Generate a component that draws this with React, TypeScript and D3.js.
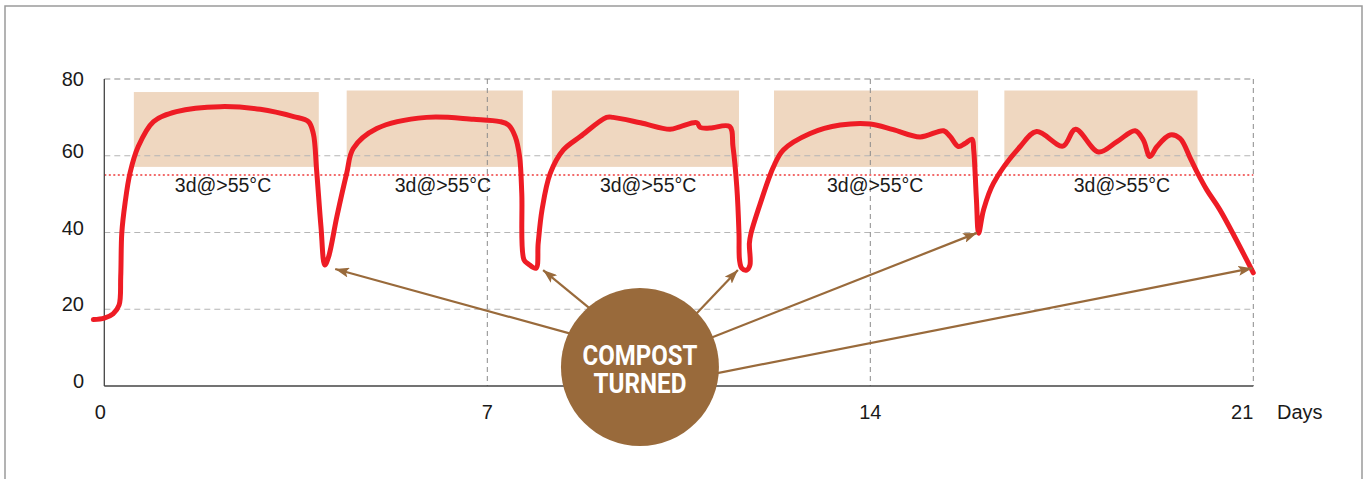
import React from "react";
import * as d3 from "d3";

const dayTicks = [0, 7, 14, 21];
const tempTicks = [0, 20, 40, 60, 80];
const thresholdTemp = 55;

const bandStart = [0.54, 4.43, 8.18, 12.24, 16.45];
const bandEnd = [3.92, 7.65, 11.6, 15.97, 19.98];
const bandTop = [76.6, 77.0, 77.0, 77.0, 77.0];
const bandBottom = 57.1;
const bandLabelDay = [2.17, 6.19, 9.94, 14.09, 18.6];
const bandLabel = "3d@>55°C";

const days = [
  -0.2, 0.0, 0.16, 0.27, 0.3, 0.32, 0.38, 0.47, 0.62, 0.9, 1.32, 2.12, 2.85, 3.46, 3.73, 3.82, 3.88, 3.96, 4.03,
  4.1, 4.25, 4.43, 4.55, 4.98, 5.89, 6.75, 7.23, 7.39, 7.51, 7.59, 7.63, 7.67, 7.75, 7.89, 7.93, 8.0, 8.15, 8.39,
  8.7, 9.18, 9.3, 9.8, 10.34, 10.53, 10.83, 10.89, 11.07, 11.43, 11.49, 11.56, 11.6, 11.61, 11.65, 11.74, 11.8,
  11.79, 11.82, 11.99, 12.23, 12.41, 12.9, 13.45, 14.0, 14.42, 14.91, 15.34, 15.46, 15.61, 15.73, 15.86, 15.89,
  15.94, 15.98, 16.07, 16.25, 16.74, 17.04, 17.52, 17.75, 18.17, 18.51, 18.84, 18.99, 19.11, 19.24, 19.48, 19.66,
  19.85, 19.97, 20.15, 20.39, 21.0,
];
const temps = [
  17.3, 17.7, 18.8, 21.1, 28.5, 39.9, 47.7, 55.5, 62.4, 68.9, 71.5, 72.8, 72.1, 70.2, 68.9, 65.8, 56.3, 41.5, 31.5,
  33.7, 44.1, 55.4, 61.9, 67.1, 70.0, 69.5, 68.9, 68.0, 65.0, 59.8, 50.2, 32.9, 31.8, 30.7, 37.2, 45.9, 55.4, 61.5,
  65.0, 70.0, 70.0, 68.6, 66.9, 67.6, 68.6, 67.4, 67.2, 67.6, 62.4, 51.9, 39.8, 32.8, 30.7, 30.2, 31.5,
  37.2, 39.8, 47.6, 57.1, 61.5, 65.8, 68.0, 68.3, 66.8, 64.9, 66.5, 65.0, 62.4, 63.2, 64.3, 61.5,
  48.5, 39.8, 45.9, 52.8, 62.4, 66.3, 62.5, 66.9, 61.0, 63.7, 66.5, 64.1, 59.8, 62.4, 65.4, 64.5,
  59.3, 55.8, 51.1, 45.9, 29.5,
];

// "Compost turned" annotation (data coordinates)
const calloutDay = 9.79;
const calloutTemp = 4.95;
const calloutLines = ["COMPOST", "TURNED"];
const arrowFromDay = [8.48, 8.84, 10.85, 11.13, 11.22];
const arrowFromTemp = [13.8, 20.6, 19.3, 12.8, 3.4];
const arrowToDay = [4.22, 8.02, 11.58, 15.95, 20.98];
const arrowToTemp = [30.5, 30.2, 30.2, 39.9, 30.7];

const W = 1370;
const H = 479;
const FONT = "'Liberation Sans', Arial, Helvetica, sans-serif";
const BROWN = "#996a3b";

export default function App() {
  const x = d3.scaleLinear().domain([0, 21]).range([104.3, 1253.3]);
  const y = d3.scaleLinear().domain([0, 80]).range([386, 79]);

  const pts: [number, number][] = days.map((d, i) => [x(d), y(temps[i])]);
  const line = d3.line().curve(d3.curveCatmullRom.alpha(0.5))(pts) || "";

  const cx = x(calloutDay);
  const cy = y(calloutTemp);
  const r = 79;

  return (
    <div style={{ position: "absolute", left: 0, top: 0 }}>
      <svg width={W} height={H} style={{ display: "block" }}>
        <defs>
          <marker
            id="ah"
            viewBox="0 0 14 10"
            refX="14"
            refY="5"
            markerWidth="14"
            markerHeight="10"
            markerUnits="userSpaceOnUse"
            orient="auto"
          >
            <path d="M0,0 L14,5 L0,10 L3,5 Z" fill={BROWN} />
          </marker>
        </defs>
        <rect x={0} y={0} width={W} height={H} fill="#fff" />
        <rect x={5} y={6} width={1357} height={H + 20} fill="none" stroke="#9a9a9a" strokeWidth={1.5} />

        {/* bands */}
        {bandStart.map((s, i) => (
          <rect
            key={"b" + i}
            x={x(s)}
            y={y(bandTop[i])}
            width={x(bandEnd[i]) - x(s)}
            height={y(bandBottom) - y(bandTop[i])}
            fill="#efd7c0"
          />
        ))}

        {/* horizontal grid */}
        {tempTicks
          .filter((t) => t > 0)
          .map((t) => (
            <line
              key={"h" + t}
              x1={x(0)}
              x2={x(21)}
              y1={y(t)}
              y2={y(t)}
              stroke={t === 80 ? "#8a8a8a" : "#b5b5b5"}
              strokeWidth={1.2}
              strokeDasharray="6,4"
            />
          ))}
        {/* vertical grid */}
        {dayTicks
          .filter((d) => d > 0)
          .map((d) => (
            <line
              key={"v" + d}
              x1={x(d)}
              x2={x(d)}
              y1={y(80)}
              y2={y(0)}
              stroke="#8a8a8a"
              strokeWidth={1}
              strokeDasharray="5,4"
            />
          ))}

        {/* threshold */}
        <line
          x1={x(0)}
          x2={x(21)}
          y1={y(thresholdTemp)}
          y2={y(thresholdTemp)}
          stroke="#ee3b3b"
          strokeWidth={1.5}
          strokeDasharray="2,2.5"
        />

        {/* axes */}
        <line x1={x(0)} x2={x(0)} y1={y(80)} y2={y(0)} stroke="#444" strokeWidth={1.3} />
        <line x1={x(0)} x2={x(21)} y1={y(0)} y2={y(0)} stroke="#444" strokeWidth={1.3} />

        {tempTicks.map((t) => (
          <text
            key={"yl" + t}
            x={84}
            y={y(t) - (t === 80 ? 0 : 5)}
            textAnchor="end"
            dominantBaseline="central"
            fontFamily={FONT}
            fontSize={20}
            fill="#1a1a1a"
          >
            {t}
          </text>
        ))}
        {dayTicks.map((d, i) => (
          <text
            key={"xl" + d}
            x={i === dayTicks.length - 1 ? x(d) : i === 0 ? x(d) - 4 : x(d)}
            y={412}
            textAnchor={i === dayTicks.length - 1 ? "end" : "middle"}
            dominantBaseline="central"
            fontFamily={FONT}
            fontSize={20}
            fill="#1a1a1a"
          >
            {d}
          </text>
        ))}
        <text x={1277} y={412} dominantBaseline="central" fontFamily={FONT} fontSize={20} fill="#1a1a1a">
          Days
        </text>

        {/* band labels */}
        {bandLabelDay.map((d, i) => (
          <text
            key={"bl" + i}
            x={x(d)}
            y={185}
            textAnchor="middle"
            dominantBaseline="central"
            fontFamily={FONT}
            fontSize={19.5}
            fill="#1a1a1a"
          >
            {bandLabel}
          </text>
        ))}

        {/* temperature line */}
        <path d={line} fill="none" stroke="#ee1c25" strokeWidth={5} strokeLinejoin="round" strokeLinecap="round" />

        {/* arrows */}
        {arrowFromDay.map((d, i) => {
          const x1 = x(d);
          const y1 = y(arrowFromTemp[i]);
          const x2 = x(arrowToDay[i]);
          const y2 = y(arrowToTemp[i]);
          const len = Math.hypot(x2 - x1, y2 - y1);
          const ux = (x2 - x1) / len;
          const uy = (y2 - y1) / len;
          return (
            <line
              key={"a" + i}
              x1={x1 - ux * 20}
              y1={y1 - uy * 20}
              x2={x2}
              y2={y2}
              stroke={BROWN}
              strokeWidth={2.2}
              markerEnd="url(#ah)"
            />
          );
        })}

        {/* callout */}
        <circle cx={cx} cy={cy} r={r} fill={BROWN} />
        <text
          x={cx}
          y={cy - 12}
          textAnchor="middle"
          dominantBaseline="central"
          fontFamily="Roboto, 'Liberation Sans', sans-serif"
          fontWeight={700}
          fontSize={28}
          fill="#fff"
          textLength={115}
          lengthAdjust="spacingAndGlyphs"
        >
          {calloutLines[0]}
        </text>
        <text
          x={cx}
          y={cy + 16}
          textAnchor="middle"
          dominantBaseline="central"
          fontFamily="Roboto, 'Liberation Sans', sans-serif"
          fontWeight={700}
          fontSize={28}
          fill="#fff"
          textLength={93}
          lengthAdjust="spacingAndGlyphs"
        >
          {calloutLines[1]}
        </text>
      </svg>
    </div>
  );
}
